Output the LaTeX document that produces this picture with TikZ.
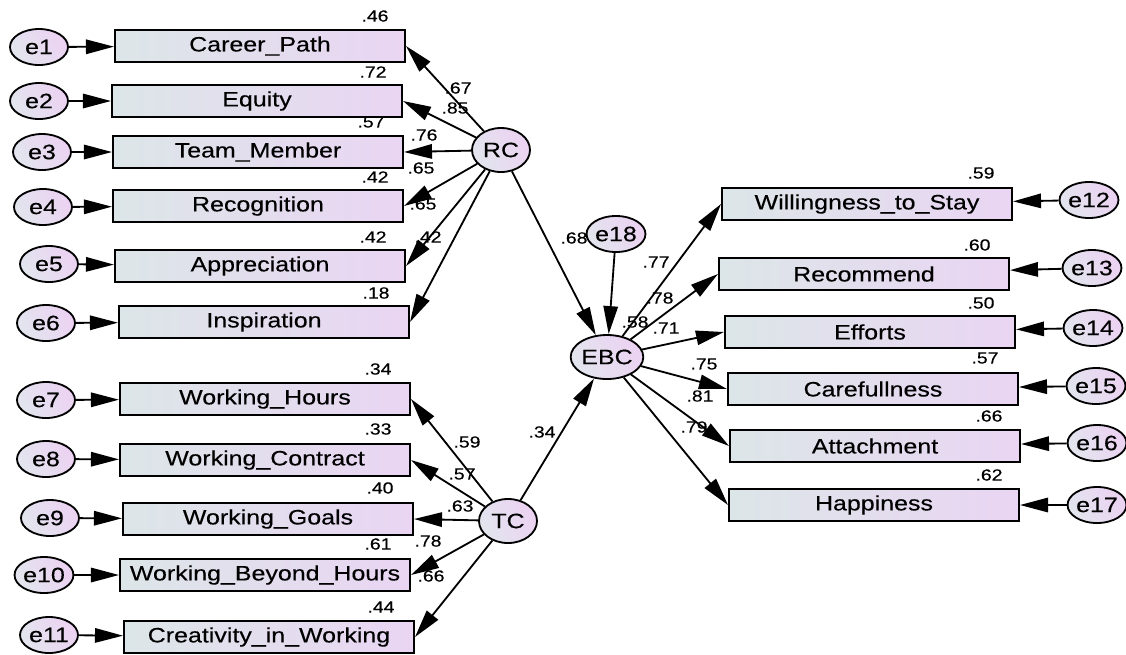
\documentclass[tikz,border=0pt]{standalone}
\usepackage{fontspec}
\setmainfont{Liberation Sans}[FakeStretch=1.2, FakeBold=0.3]
\usepackage{xcolor}
\usetikzlibrary{arrows.meta, shapes.geometric}

\definecolor{boxL}{RGB}{220,230,232}
\definecolor{boxR}{RGB}{234,213,243}
\definecolor{ovL}{RGB}{226,229,238}
\definecolor{ovR}{RGB}{236,210,242}

\begin{document}
\begin{tikzpicture}[x=0.025cm, y=-0.025cm,
  obs/.style={draw, line width=1.4pt, minimum width=7.25cm, minimum height=0.82cm,
    inner sep=0pt, left color=boxL, right color=boxR,
    font=\fontsize{14.8}{16}\selectfont},
  err/.style={ellipse, draw, line width=1.3pt, minimum width=1.45cm,
    minimum height=0.9cm, inner sep=0pt, left color=ovL, right color=ovR,
    shading angle=120, font=\fontsize{14.8}{16}\selectfont},
  lat/.style={err, minimum height=1.1cm},
  load/.style={-{Triangle[length=7mm, width=3.6mm]}, line width=1.3pt},
  num/.style={inner sep=0pt, font=\fontsize{11.5}{12}\selectfont}]
  \useasboundingbox (0,0) rectangle (1126,654);

  % ---- RC ----
  \node[lat] (RC) at (501,150) {RC};
  \node[obs] (cp)  at (260,46)  {Career\_Path};
  \node[obs] (eq)  at (257,101) {Equity};
  \node[obs] (tm)  at (258,152) {Team\_Member};
  \node[obs] (rec) at (258,206) {Recognition};
  \node[obs] (app) at (260,266) {Appreciation};
  \node[obs] (ins) at (264,322) {Inspiration};
  \node[err] (e1) at (39,47)  {e1};
  \node[err] (e2) at (39,101) {e2};
  \node[err] (e3) at (42,152) {e3};
  \node[err] (e4) at (43,207) {e4};
  \node[err] (e5) at (49,264) {e5};
  \node[err] (e6) at (46,323) {e6};
  \draw[load] (e1) -- (cp);
  \draw[load] (e2) -- (eq);
  \draw[load] (e3) -- (tm);
  \draw[load] (e4) -- (rec);
  \draw[load] (e5) -- (app);
  \draw[load] (e6) -- (ins);
  \draw[load] (RC) -- (cp.east);
  \draw[load] (RC) -- (eq.east);
  \draw[load] (RC) -- (tm.east);
  \draw[load] (RC) -- (rec.east);
  \draw[load] (RC) -- (app.east);
  \draw[load] (RC) -- (ins.east);
  \node[num] (r1) at (375,16)  {.46};
  \node[num] (r2) at (373,72)  {.72};
  \node[num] (r3) at (371,122) {.57};
  \node[num] (r4) at (375,177) {.42};
  \node[num] (r5) at (373,237) {.42};
  \node[num] (r6) at (376,293) {.18};
  \node[num] (l1) at (458,88)  {.67};
  \node[num] (l2) at (455,108) {.85};
  \node[num] (l3) at (424,135) {.76};
  \node[num] (l4) at (421,168) {.65};
  \node[num] (l5) at (423,204) {.65};
  \node[num] (l6) at (428,237) {.42};

  % ---- TC ----
  \node[lat] (TC) at (508,521) {TC};
  \node[obs] (wh)  at (265,399) {Working\_Hours};
  \node[obs] (wc)  at (265,460) {Working\_Contract};
  \node[obs] (wg)  at (268,519) {Working\_Goals};
  \node[obs] (wbh) at (265,575) {Working\_Beyond\_Hours};
  \node[obs] (cw)  at (269,637) {Creativity\_in\_Working};
  \node[err] (e7)  at (46,400) {e7};
  \node[err] (e8)  at (46,459) {e8};
  \node[err] (e9)  at (50,518) {e9};
  \node[err] (e10) at (44,575) {e10};
  \node[err] (e11) at (49,635) {e11};
  \draw[load] (e7) -- (wh);
  \draw[load] (e8) -- (wc);
  \draw[load] (e9) -- (wg);
  \draw[load] (e10) -- (wbh);
  \draw[load] (e11) -- (cw);
  \draw[load] (TC) -- (wh.east);
  \draw[load] (TC) -- (wc.east);
  \draw[load] (TC) -- (wg.east);
  \draw[load] (TC) -- (wbh.east);
  \draw[load] (TC) -- (cw.east);
  \node[num] (r7)  at (378,369) {.34};
  \node[num] (r8)  at (378,429) {.33};
  \node[num] (r9)  at (380,488) {.40};
  \node[num] (r10) at (378,544) {.61};
  \node[num] (r11) at (381,607) {.44};
  \node[num] (l7)  at (467,442) {.59};
  \node[num] (l8)  at (462,474) {.57};
  \node[num] (l9)  at (460,506) {.63};
  \node[num] (l10) at (428,541) {.78};
  \node[num] (l11) at (431,576) {.66};

  % ---- EBC ----
  \node[lat] (EBC) at (607,357) {EBC};
  \node[err] (e18) at (616,234) {e18};
  \draw[load] (RC) -- (EBC);
  \draw[load] (TC) -- (EBC);
  \draw[load] (e18) -- (EBC);
  \node[num] (p1) at (574,238) {.68};
  \node[num] (p2) at (542,432) {.34};
  \node[num] (p3) at (635,322) {.58};
  \node[obs] (ws)  at (867,204) {Willingness\_to\_Stay};
  \node[obs] (rcm) at (864,274) {Recommend};
  \node[obs] (eff) at (870,332) {Efforts};
  \node[obs] (car) at (873,389) {Carefullness};
  \node[obs] (att) at (875,446) {Attachment};
  \node[obs] (hap) at (874,505) {Happiness};
  \node[err] (e12) at (1089,200) {e12};
  \node[err] (e13) at (1092,268) {e13};
  \node[err] (e14) at (1093,328) {e14};
  \node[err] (e15) at (1096,386) {e15};
  \node[err] (e16) at (1097,443) {e16};
  \node[err] (e17) at (1097,505) {e17};
  \draw[load] (EBC) -- (ws.west);
  \draw[load] (EBC) -- (rcm.west);
  \draw[load] (EBC) -- (eff.west);
  \draw[load] (EBC) -- (car.west);
  \draw[load] (EBC) -- (att.west);
  \draw[load] (EBC) -- (hap.west);
  \draw[load] (e12) -- (ws);
  \draw[load] (e13) -- (rcm);
  \draw[load] (e14) -- (eff);
  \draw[load] (e15) -- (car);
  \draw[load] (e16) -- (att);
  \draw[load] (e17) -- (hap);
  \node[num] (l12) at (656,262) {.77};
  \node[num] (l13) at (660,298) {.78};
  \node[num] (l14) at (666,328) {.71};
  \node[num] (l15) at (704,364) {.75};
  \node[num] (l16) at (700,396) {.81};
  \node[num] (l17) at (694,427) {.79};
  \node[num] (r12) at (981,173) {.59};
  \node[num] (r13) at (977,245) {.60};
  \node[num] (r14) at (981,303) {.50};
  \node[num] (r15) at (985,358) {.57};
  \node[num] (r16) at (989,416) {.66};
  \node[num] (r17) at (989,475) {.62};
\end{tikzpicture}
\end{document}
